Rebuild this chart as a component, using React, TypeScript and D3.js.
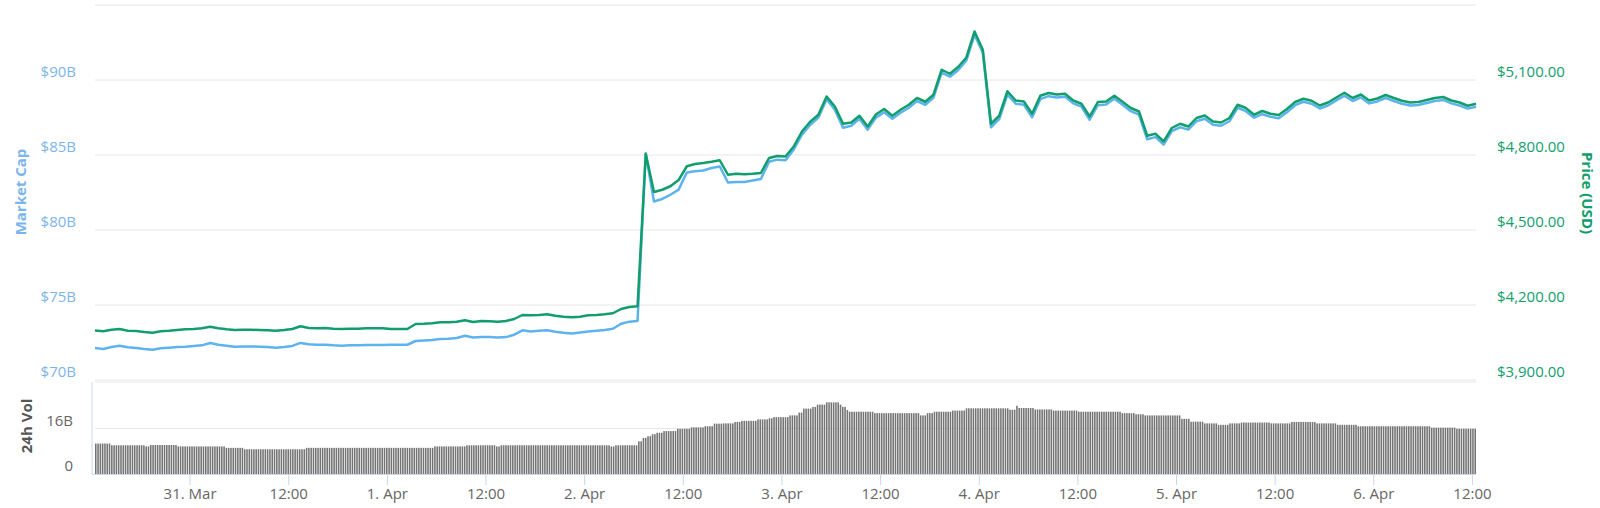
import { line, range, scaleBand, scaleLinear, scaleUtc, utcFormat, utcHour } from "d3";

// hourly samples starting 30 Mar 2019 12:26 UTC
const startTime = Date.UTC(2019, 2, 30, 12, 26);
const hourMs = 3600 * 1000;

const priceUsd = [
  4098, 4095, 4101, 4104, 4097, 4096, 4092, 4089, 4095, 4097, 4100, 4103,
  4104, 4107, 4113, 4107, 4103, 4100, 4101, 4101, 4100, 4099, 4097, 4100,
  4104, 4115, 4108, 4107, 4108, 4105, 4104, 4105, 4105, 4107, 4107, 4107,
  4104, 4104, 4104, 4124, 4125, 4127, 4131, 4131, 4133, 4139, 4132, 4136,
  4135, 4133, 4136, 4144, 4160, 4159, 4160, 4163, 4157, 4153, 4151, 4153,
  4159, 4160, 4163, 4167, 4184, 4192, 4195, 4805, 4652, 4661, 4675, 4700,
  4755, 4764, 4768, 4773, 4779, 4721, 4725, 4723, 4725, 4728, 4788, 4796,
  4794, 4834, 4894, 4933, 4961, 5034, 4994, 4925, 4930, 4957, 4914, 4962,
  4984, 4957, 4981, 5001, 5028, 5013, 5041, 5141, 5125, 5152, 5190, 5294,
  5221, 4925, 4957, 5055, 5018, 5014, 4965, 5037, 5048, 5042, 5045, 5018,
  5005, 4954, 5012, 5014, 5037, 5013, 4988, 4974, 4877, 4885, 4854, 4908,
  4925, 4914, 4948, 4958, 4934, 4930, 4948, 5001, 4988, 4961, 4976, 4965,
  4960, 4984, 5012, 5025, 5017, 4998, 5010, 5030, 5049, 5028, 5042, 5018,
  5026, 5040, 5028, 5017, 5010, 5012, 5020, 5028, 5032, 5018, 5010, 4997,
  5005,
];

const marketCapB = [
  72.13, 72.07, 72.2, 72.29, 72.18, 72.13, 72.06, 72.02, 72.11, 72.15, 72.2, 72.22,
  72.27, 72.31, 72.47, 72.35, 72.29, 72.22, 72.24, 72.24, 72.22, 72.2, 72.15, 72.2,
  72.27, 72.47, 72.38, 72.35, 72.35, 72.31, 72.29, 72.31, 72.31, 72.33, 72.33, 72.33,
  72.35, 72.35, 72.35, 72.6, 72.64, 72.66, 72.73, 72.75, 72.8, 72.95, 72.84, 72.86,
  72.86, 72.84, 72.86, 73.02, 73.31, 73.24, 73.29, 73.31, 73.22, 73.15, 73.1, 73.17,
  73.24, 73.29, 73.33, 73.42, 73.75, 73.89, 73.93, 85.1, 81.9, 82.07, 82.35, 82.69,
  83.84, 83.91, 83.97, 84.13, 84.24, 83.17, 83.2, 83.2, 83.3, 83.4, 84.55, 84.69,
  84.65, 85.35, 86.35, 87.0, 87.49, 88.72, 88.02, 86.82, 86.95, 87.42, 86.69, 87.49,
  87.85, 87.42, 87.82, 88.15, 88.59, 88.35, 88.82, 90.49, 90.22, 90.65, 91.3, 93.02,
  91.82, 86.85, 87.39, 89.02, 88.42, 88.35, 87.52, 88.72, 88.92, 88.84, 88.89, 88.44,
  88.22, 87.35, 88.32, 88.37, 88.75, 88.35, 87.92, 87.69, 86.05, 86.19, 85.69, 86.59,
  86.85, 86.69, 87.25, 87.42, 87.02, 86.95, 87.25, 88.15, 87.92, 87.49, 87.72, 87.55,
  87.45, 87.85, 88.32, 88.55, 88.42, 88.1, 88.3, 88.64, 88.95, 88.6, 88.84, 88.44,
  88.57, 88.8, 88.6, 88.42, 88.3, 88.33, 88.47, 88.6, 88.67, 88.44, 88.3, 88.09,
  88.22,
];

// 24h volume in $B as [value, number of consecutive bars]
const volumeRuns: [number, number][] = [
  [10.7, 7], [10.1, 15], [9.7, 2], [10.2, 12], [9.7, 21], [9.2, 8], [8.7, 27],
  [9.2, 56], [9.7, 14], [10.1, 13], [9.7, 2], [10.1, 48], [9.7, 2], [10.1, 10],
  [11.5, 2], [12.7, 2], [13.3, 2], [14.0, 2], [14.5, 3], [15.1, 6], [15.9, 6],
  [16.4, 6], [16.8, 4], [17.7, 4], [17.8, 5], [18.3, 3], [18.7, 7], [19.2, 5],
  [19.6, 2], [20.0, 7], [20.6, 4], [21.6, 2], [23.0, 4], [23.6, 2], [24.4, 4],
  [25.2, 6], [24.4, 1], [23.6, 2], [22.5, 1], [21.9, 11], [21.4, 20], [20.6, 3],
  [21.4, 3], [21.9, 8], [22.3, 6], [23.1, 19], [22.6, 3], [24.0, 1], [23.2, 7],
  [22.7, 8], [22.3, 11], [21.9, 19], [21.4, 6], [21.0, 4], [20.6, 16], [19.4, 4],
  [18.4, 6], [17.8, 6], [17.3, 5], [17.8, 5], [18.1, 13], [17.8, 9], [18.3, 11],
  [17.8, 9], [17.3, 9], [16.8, 32], [16.3, 11], [15.9, 9],
];

const capTicks = [70, 75, 80, 85, 90];
const priceTicks = [3900, 4200, 4500, 4800, 5100];
const volumeTicks = [0, 16];

const font = "'Open Sans', sans-serif";
const blue = "#7cb5ec";
const blueLine = "#5db3ee";
const green = "#119e6c";

export default function App() {
  const width = 1600;
  const height = 508;
  const left = 95;
  const right = 1476;
  const mainTop = 5;
  const mainBottom = 380;
  const volTop = 383;
  const volBottom = 474;

  const times = priceUsd.map((_, i) => new Date(startTime + i * hourMs));
  const x = scaleUtc()
    .domain([times[0], times[times.length - 1]])
    .range([left, right]);
  const yCap = scaleLinear().domain([70, 95]).range([mainBottom, mainTop]);
  const yPrice = scaleLinear().domain([3900, 5400]).range([mainBottom, mainTop]);
  const yVol = scaleLinear().domain([0, 32]).range([volBottom, volTop]);

  const volumeBars = volumeRuns.flatMap(([v, n]) => Array(n).fill(v) as number[]);
  const xBar = scaleBand<number>()
    .domain(range(volumeBars.length))
    .range([left, right])
    .paddingInner(0.32);

  const capPath = line<number>()
    .x((_, i) => x(times[i]))
    .y((d) => yCap(d))(marketCapB);
  const pricePath = line<number>()
    .x((_, i) => x(times[i]))
    .y((d) => yPrice(d))(priceUsd);

  const xTicks = x.ticks(utcHour.every(12)!);
  const fmtDay = utcFormat("%-d. %b");
  const fmtHour = utcFormat("%H:%M");

  return (
    <svg
      width={width}
      height={height}
      style={{ position: "absolute", left: 0, top: 0, fontFamily: font }}
    >
      <rect width={width} height={height} fill="#ffffff" />

      {/* main panel grid */}
      {[...capTicks, 95].map((t) => (
        <line key={t} x1={left} x2={right} y1={yCap(t)} y2={yCap(t)} stroke="#e6e6e6" />
      ))}
      <line x1={left} x2={right} y1={volTop - 1} y2={volTop - 1} stroke="#e6e6e6" />
      <line x1={left} x2={right} y1={yVol(16)} y2={yVol(16)} stroke="#e6e6e6" />

      {capTicks.map((t) => (
        <text key={t} x={76} y={yCap(t) - 3} textAnchor="end" fontSize={15} fill={blue}>
          ${t}B
        </text>
      ))}
      {priceTicks.map((t) => (
        <text key={t} x={1497} y={yPrice(t) - 3} fontSize={15} fill={green}>
          ${t.toLocaleString("en-US")}.00
        </text>
      ))}
      {volumeTicks.map((t) => (
        <text key={t} x={73} y={yVol(t) - 3} textAnchor="end" fontSize={15} fill="#666666">
          {t === 0 ? "0" : `${t}B`}
        </text>
      ))}

      <text
        transform="translate(21,192) rotate(-90)"
        textAnchor="middle"
        dy="0.35em"
        fontSize={15}
        fontWeight="bold"
        fill={blue}
      >
        Market Cap
      </text>
      <text
        transform="translate(27,426) rotate(-90)"
        textAnchor="middle"
        dy="0.35em"
        fontSize={15}
        fontWeight="bold"
        fill="#555555"
      >
        24h Vol
      </text>
      <text
        transform="translate(1587,193) rotate(90)"
        textAnchor="middle"
        dy="0.35em"
        fontSize={15}
        fontWeight="bold"
        fill={green}
      >
        Price (USD)
      </text>

      {/* volume bars */}
      {volumeBars.map((v, i) => (
        <rect
          key={i}
          x={xBar(i)}
          y={yVol(v)}
          width={xBar.bandwidth()}
          height={yVol(0) - yVol(v)}
          fill="#747474"
        />
      ))}

      {/* axes lines */}
      <line x1={92} x2={92} y1={volTop - 1} y2={volBottom} stroke="#ccd6eb" />
      <line x1={92} x2={right} y1={volBottom + 0.5} y2={volBottom + 0.5} stroke="#ccd6eb" />
      {xTicks.map((t) => (
        <g key={t.getTime()}>
          <line
            x1={x(t)}
            x2={x(t)}
            y1={volBottom}
            y2={volBottom + 11}
            stroke="#ccd6eb"
          />
          <text x={x(t)} y={499} textAnchor="middle" fontSize={15} fill="#666666">
            {t.getUTCHours() === 0 ? fmtDay(t) : fmtHour(t)}
          </text>
        </g>
      ))}

      {capPath ? (
        <path d={capPath} fill="none" stroke={blueLine} strokeWidth={2.5} strokeLinejoin="round" />
      ) : null}
      {pricePath ? (
        <path d={pricePath} fill="none" stroke={green} strokeWidth={2.5} strokeLinejoin="round" />
      ) : null}
    </svg>
  );
}
